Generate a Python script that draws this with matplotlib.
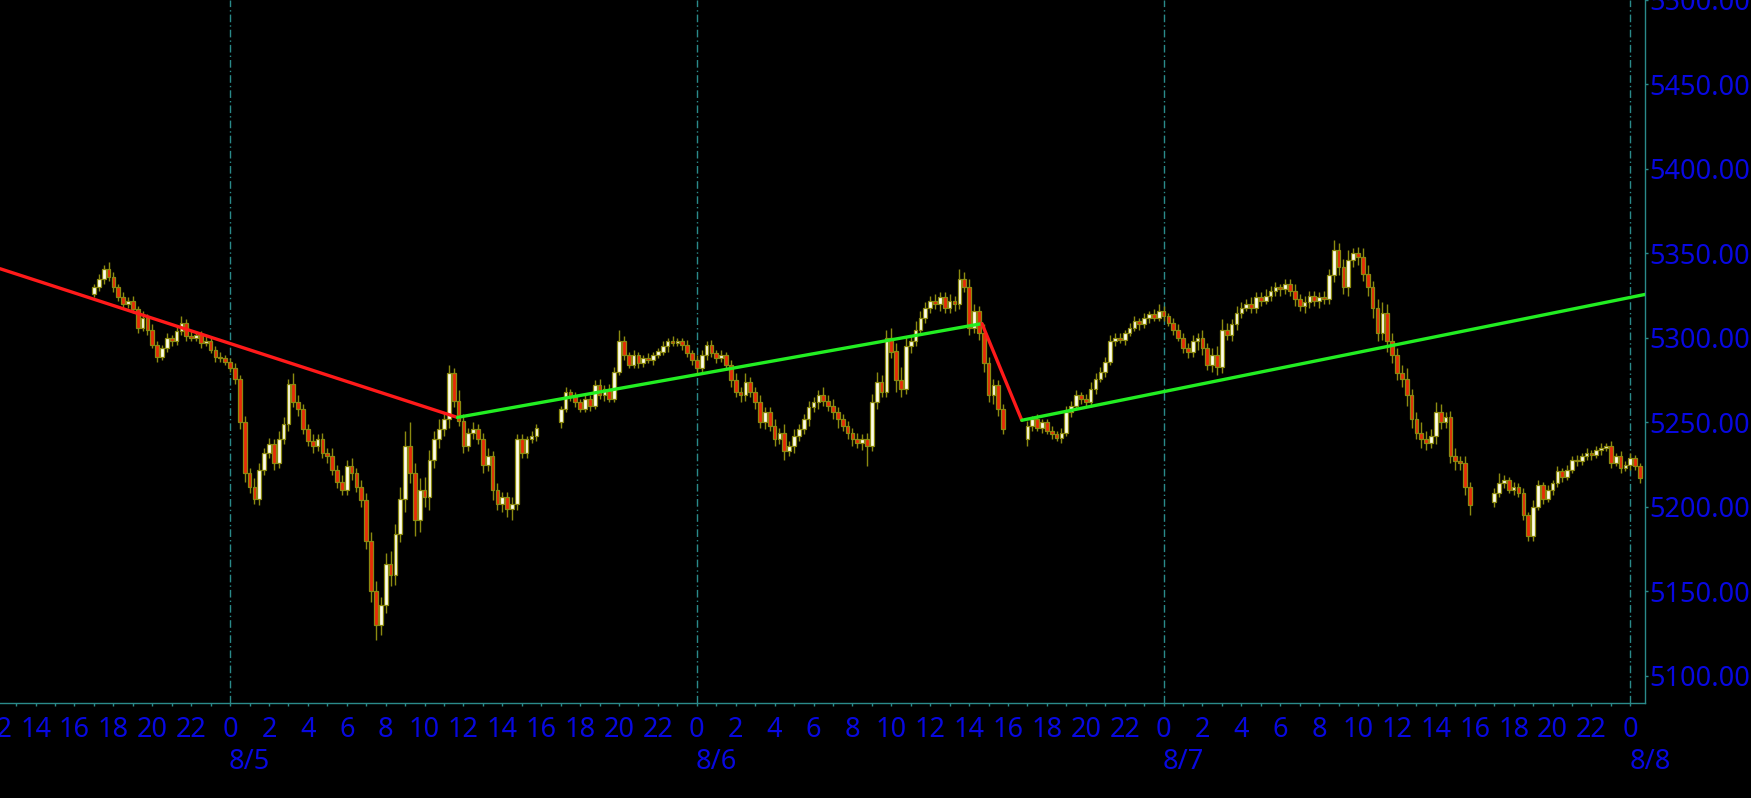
import matplotlib
matplotlib.use("Agg")
import matplotlib.pyplot as plt
import matplotlib.transforms as mtransforms

# ---------------- data (15-minute candles, hours from 8/5 00:00) ----------------
seg_start_hour = [-7.0, 17.0, 41.0, 65.0]
seg_first_open = [5326, 5250, 5240, 5203]

seg1_close = [5330, 5335, 5341, 5336, 5330, 5324, 5320, 5322, 5317, 5306, 5312, 5305, 5296, 5289,
              5294, 5300, 5298, 5304, 5309, 5301, 5300, 5302, 5297, 5298, 5293, 5289, 5288, 5286,
              5282, 5276, 5250, 5220, 5212, 5205, 5222, 5232, 5237, 5226, 5240, 5249, 5273, 5262,
              5258, 5246, 5239, 5236, 5240, 5232, 5230, 5222, 5215, 5210, 5224, 5220, 5212, 5204,
              5180, 5150, 5130,
              5142, 5166, 5160, 5184, 5205, 5236, 5220, 5192, 5210, 5206, 5228, 5240, 5246, 5252,
              5279, 5263, 5251, 5236, 5244, 5246, 5240, 5225, 5230, 5210, 5202, 5206, 5199, 5202,
              5240, 5232, 5240, 5242, 5247]
seg1_up = [2, 3, 2, 4, 3, 2, 3, 2, 3, 2, 4, 2, 3, 2, 2, 3, 2, 3, 4, 2, 3, 2, 2, 3, 2, 2, 3, 2,
           2, 3, 2, 4, 3, 5, 4, 3, 4, 3, 5, 4, 3, 6, 4, 3, 3, 4, 3, 4, 3, 5, 3, 4, 4, 5, 3, 4, 4, 5, 6,
           5, 7, 8, 6, 7, 9, 14, 6, 7, 8, 6, 5, 6, 4, 5, 3, 6, 4, 3, 4, 3, 4, 5, 3, 4, 3, 3, 4, 3, 3, 2, 3, 2]
seg1_dn = [2, 2, 3, 2, 3, 2, 3, 2, 2, 3, 2, 3, 2, 3, 2, 2, 3, 2, 2, 3, 2, 2, 3, 2, 2, 3, 2, 2,
           2, 3, 4, 5, 4, 3, 4, 3, 3, 4, 3, 3, 4, 3, 4, 3, 3, 4, 3, 3, 4, 3, 4, 3, 3, 4, 3, 4, 5, 6, 9,
           6, 5, 7, 6, 5, 8, 6, 9, 7, 6, 8, 5, 5, 4, 5, 4, 3, 4, 3, 4, 3, 5, 4, 6, 4, 5, 5, 7, 4, 3, 3, 2, 3]

seg2_close = [5258, 5268, 5265, 5262, 5258, 5264, 5260, 5272, 5266, 5270, 5264, 5280,
              5298, 5290, 5284, 5290, 5285, 5288, 5287, 5290, 5292, 5295, 5298, 5297, 5298, 5296, 5291, 5287,
              5282, 5290, 5296, 5291, 5288, 5290, 5284, 5275, 5268, 5266, 5274, 5268, 5262, 5250, 5256, 5248,
              5240, 5244, 5233, 5236, 5242, 5246, 5252, 5259, 5262, 5266, 5263, 5260, 5256, 5252, 5248, 5244,
              5240, 5238, 5240, 5236, 5262, 5274, 5268, 5300, 5292, 5275, 5270, 5295, 5298, 5305, 5312, 5318,
              5322, 5320, 5324, 5318, 5322, 5320, 5335, 5330, 5306, 5316, 5303, 5285, 5266, 5272, 5258, 5246]
seg2_up = [2, 3, 2, 3, 2, 3, 2, 3, 4, 2, 3, 3,
           7, 3, 2, 3, 2, 2, 3, 2, 2, 3, 2, 3, 2, 2, 3, 2,
           3, 3, 2, 3, 2, 3, 2, 3, 4, 3, 5, 3, 3, 4, 3, 3,
           4, 3, 5, 3, 4, 3, 3, 4, 3, 3, 5, 3, 4, 3, 3, 3,
           3, 4, 3, 4, 5, 6, 4, 5, 6, 5, 8, 6, 4, 5, 4, 3,
           3, 4, 3, 3, 4, 3, 6, 4, 5, 4, 3, 5, 4, 4, 3, 3]
seg2_dn = [3, 2, 2, 3, 2, 2, 3, 2, 2, 3, 2, 2,
           2, 3, 2, 2, 3, 2, 2, 3, 2, 2, 3, 2, 2, 3, 2, 3,
           3, 2, 3, 2, 3, 2, 3, 4, 3, 4, 3, 3, 4, 3, 4, 3,
           4, 3, 5, 3, 4, 3, 3, 4, 3, 4, 3, 3, 4, 5, 3, 4,
           4, 3, 4, 12, 3, 4, 3, 3, 4, 7, 5, 3, 4, 3, 3, 3,
           3, 3, 4, 3, 3, 4, 3, 3, 4, 3, 4, 5, 4, 5, 4, 3]

seg3_close = [5248, 5252, 5247, 5250, 5245, 5243, 5241, 5244, 5256, 5260, 5266, 5264, 5262, 5270, 5276, 5280,
              5286, 5298, 5300, 5299, 5303, 5306, 5310, 5308, 5312, 5314, 5312, 5316, 5313, 5309, 5305, 5300,
              5294, 5292, 5298, 5300, 5294, 5284, 5290, 5283, 5305, 5302, 5308, 5315, 5318, 5320, 5318, 5324,
              5322, 5325, 5328, 5330, 5329, 5332, 5328, 5323, 5319, 5321, 5325, 5322, 5324, 5323, 5337, 5352,
              5342, 5330, 5346, 5350, 5348, 5338, 5330, 5318, 5303, 5315, 5298, 5290, 5279, 5276, 5266, 5252,
              5244, 5240, 5238, 5242, 5256, 5250, 5253, 5230, 5227, 5226, 5212, 5201]
seg3_up = [3, 2, 3, 2, 2, 3, 2, 3, 4, 3, 3, 2, 3, 4, 3, 3,
           3, 4, 3, 3, 2, 3, 3, 2, 3, 2, 3, 4, 3, 2, 3, 3,
           3, 3, 4, 3, 5, 3, 4, 5, 6, 4, 3, 4, 3, 3, 4, 3,
           3, 4, 3, 3, 2, 3, 3, 4, 3, 4, 3, 3, 3, 4, 4, 6,
           4, 5, 6, 3, 4, 5, 5, 4, 5, 6, 5, 5, 4, 5, 6, 4,
           4, 6, 5, 4, 6, 5, 3, 4, 5, 3, 4, 3]
seg3_dn = [4, 3, 2, 3, 2, 3, 2, 3, 2, 3, 2, 3, 2, 3, 3, 2,
           3, 2, 3, 2, 3, 2, 2, 3, 2, 3, 2, 2, 3, 2, 3, 2,
           3, 4, 3, 5, 4, 3, 4, 5, 4, 3, 4, 3, 3, 2, 3, 3,
           3, 2, 3, 3, 4, 3, 3, 4, 3, 4, 3, 3, 4, 3, 3, 4,
           5, 4, 5, 4, 5, 4, 5, 6, 5, 4, 6, 5, 4, 5, 6, 5,
           4, 5, 4, 3, 5, 4, 3, 4, 5, 4, 5, 6]

seg4_close = [5208, 5214, 5216, 5210, 5212, 5208, 5195, 5183, 5200, 5213, 5205, 5210, 5214, 5221, 5218,
              5222, 5228, 5227, 5230, 5232, 5231, 5234, 5235, 5236, 5226, 5230, 5223, 5225, 5229, 5224, 5217]
seg4_up = [3, 6, 3, 2, 3, 2, 3, 2, 4, 3, 2, 3, 2, 3, 2, 3, 2, 3, 2, 3, 2, 2, 3, 2, 3, 2, 3, 2, 3, 2, 2]
seg4_dn = [3, 2, 3, 2, 3, 2, 3, 3, 3, 2, 3, 2, 3, 2, 3, 2, 2, 3, 2, 2, 3, 2, 3, 2, 3, 2, 3, 2, 3, 2, 3]

# trend lines (hour, price) vertices
trend_h = [-11.83, 11.69, 38.66, 40.71, 72.77]
trend_p = [5341.0, 5253.0, 5308.5, 5251.3, 5325.8]
trend_colors = ["#ff1a1a", "#22ee22", "#ff1a1a", "#22ee22"]

day_hours = [0, 24, 48, 72]
day_labels = ["8/5", "8/6", "8/7", "8/8"]
hour_label_pos = list(range(-12, 73, 2))
price_ticks = [5100, 5150, 5200, 5250, 5300, 5350, 5400, 5450, 5500]

# ---------------- styling ----------------
W, H, DPI = 1751, 798, 100
TEAL = "#2a8a8a"
BLUE = "#0808e0"
UP_FILL = "#fffdea"
DN_FILL = "#e82a08"
EDGE = "#8c8a10"
WICK = "#8c8a10"
FS = 19.5
plt.rcParams["font.family"] = ["Noto Sans", "DejaVu Sans"]

closes_all = [seg1_close, seg2_close, seg3_close, seg4_close]
ups_all = [seg1_up, seg2_up, seg3_up, seg4_up]
dns_all = [seg1_dn, seg2_dn, seg3_dn, seg4_dn]

hours, opens, closes, highs, lows = [], [], [], [], []
for start, o0, cl, up, dn in zip(seg_start_hour, seg_first_open, closes_all, ups_all, dns_all):
    prev = o0
    for i, (c, u, d) in enumerate(zip(cl, up, dn)):
        o = prev
        hours.append(start + 0.25 * i)
        opens.append(o)
        closes.append(c)
        highs.append(max(o, c) + u)
        lows.append(min(o, c) - d)
        prev = c

fig = plt.figure(figsize=(W / DPI, H / DPI), dpi=DPI, facecolor="black")
ax_bottom_px = 703
ax_right_px = 1645.3
ax = fig.add_axes([0, 1 - ax_bottom_px / H, ax_right_px / W, ax_bottom_px / H])
ax.set_facecolor("black")
ax.set_xlim(-11.83, 72.77)
ax.set_ylim(5084.0, 5499.7)

# day separators
for dh in day_hours:
    ax.axvline(dh, color=TEAL, lw=1.0, ls=(0, (5.5, 2.2, 1.0, 2.2)), zorder=1)

# wicks
ax.vlines(hours, lows, highs, color=WICK, lw=1.0, zorder=2)

# bodies
bw = 0.19
for h, o, c in zip(hours, opens, closes):
    lo = min(o, c)
    ht = abs(c - o)
    if ht < 0.8:
        ht = 0.8
        lo = lo - 0.4
    fill = UP_FILL if c >= o else DN_FILL
    ax.bar(h, ht, bottom=lo, width=bw, color=fill, edgecolor=EDGE, linewidth=0.9, zorder=3)

# trend lines
for i, col in enumerate(trend_colors):
    ax.plot(trend_h[i:i + 2], trend_p[i:i + 2], color=col, lw=2.4,
            solid_capstyle="round", zorder=5)

# spines
for s in ["top", "left"]:
    ax.spines[s].set_visible(False)
for s in ["bottom", "right"]:
    ax.spines[s].set_color(TEAL)
    ax.spines[s].set_linewidth(1.0)

# x ticks: hourly marks, labels drawn manually
ax.set_xticks(list(range(-11, 73)))
ax.set_xticklabels([])
ax.tick_params(axis="x", direction="out", length=2.0, width=1, color=TEAL)

# y ticks on the right
ax.yaxis.tick_right()
ax.set_yticks(price_ticks)
ax.set_yticklabels([f"{p:.3f}" for p in price_ticks])
ax.tick_params(axis="y", direction="out", length=2.2, width=1, color=TEAL,
               labelcolor=BLUE, labelsize=FS, pad=1.0, right=True, left=False,
               labelright=True, labelleft=False)

# hour labels and day labels
blend = mtransforms.blended_transform_factory(ax.transData, ax.transAxes)
hour_tr = mtransforms.offset_copy(blend, fig=fig, x=0, y=-27, units="dots")
for hv in hour_label_pos:
    ax.text(hv, 0, str(hv % 24), transform=hour_tr, ha="center", va="center",
            color=BLUE, fontsize=FS, clip_on=False)
day_tr = mtransforms.offset_copy(blend, fig=fig, x=-1, y=-59, units="dots")
for dh, lab in zip(day_hours, day_labels):
    ax.text(dh, 0, lab, transform=day_tr, ha="left", va="center",
            color=BLUE, fontsize=FS, clip_on=False)

fig.savefig("out.png", dpi=DPI, facecolor="black")
